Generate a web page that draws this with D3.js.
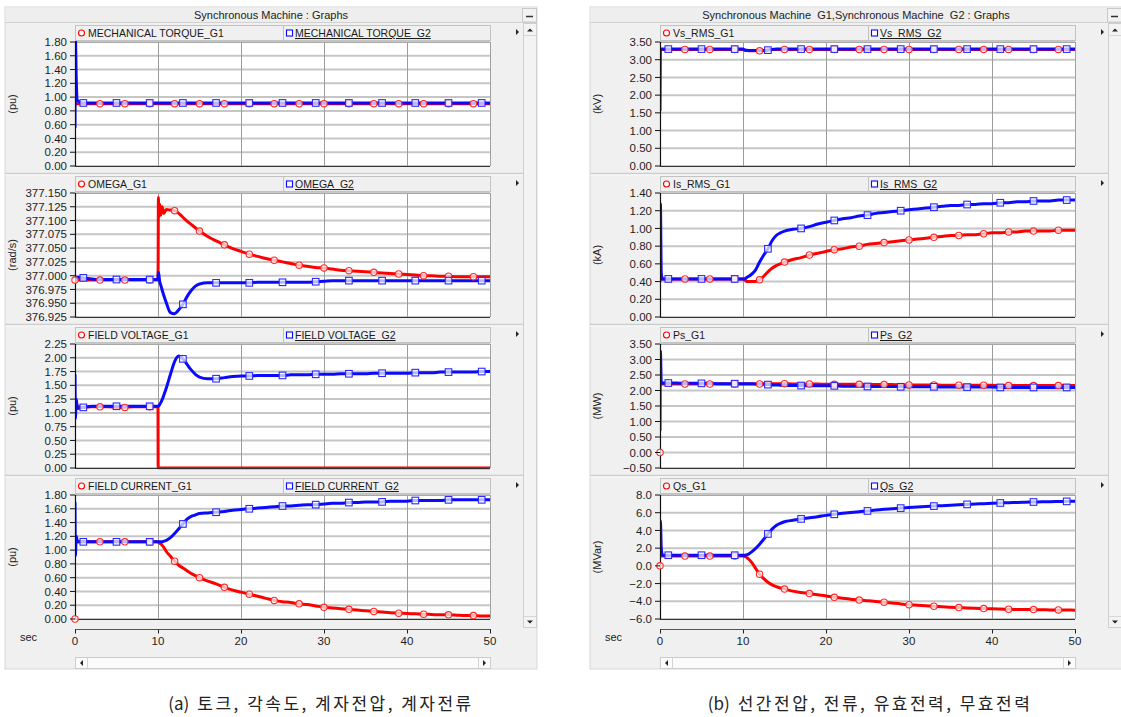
<!DOCTYPE html>
<html>
<head>
<meta charset="utf-8">
<script src="https://cdn.jsdelivr.net/npm/d3@7"></script>
<style>
  html, body { margin: 0; padding: 0; background: #ffffff; }
  svg { display: block; }
</style>
</head>
<body>
<svg id="chart" width="1121" height="717"></svg>
<script>
// ---- simulation time base (s) shared by every trace ----
const time = [
  0, 0.05, 0.15, 0.3,
  1, 2, 3, 4, 5, 6, 7, 8, 9, 10,
  10.02, 10.05, 10.1, 10.2, 10.35, 10.5, 10.7,
  11, 11.5, 12, 12.5, 13, 13.5, 14, 14.5, 15,
  16, 17, 18, 19, 20, 21, 22, 23, 24, 25,
  26, 27, 28, 29, 30, 31, 32, 33, 34, 35,
  36, 37, 38, 39, 40, 41, 42, 43, 44, 45,
  46, 47, 48, 49, 50
];

// ---- (a) mechanical torque (pu) ----
const torqueG1 = [
  0.905, 0.905, 0.905, 0.905,
  0.905, 0.905, 0.905, 0.905, 0.905, 0.905, 0.905, 0.905, 0.905, 0.905,
  0.905, 0.905, 0.905, 0.905, 0.905, 0.905, 0.905,
  0.905, 0.905, 0.905, 0.905, 0.905, 0.905, 0.905, 0.905, 0.905,
  0.905, 0.905, 0.905, 0.905, 0.905, 0.905, 0.905, 0.905, 0.905, 0.905,
  0.905, 0.905, 0.905, 0.905, 0.905, 0.905, 0.905, 0.905, 0.905, 0.905,
  0.905, 0.905, 0.905, 0.905, 0.905, 0.905, 0.905, 0.905, 0.905, 0.905,
  0.905, 0.905, 0.905, 0.905, 0.905
];
const torqueG2 = [
  0.55, 1.85, 1.28, 0.95,
  0.915, 0.915, 0.915, 0.915, 0.915, 0.915, 0.915, 0.915, 0.915, 0.915,
  0.915, 0.915, 0.915, 0.915, 0.915, 0.915, 0.915,
  0.915, 0.915, 0.915, 0.915, 0.915, 0.915, 0.915, 0.915, 0.915,
  0.915, 0.915, 0.915, 0.915, 0.915, 0.915, 0.915, 0.915, 0.915, 0.915,
  0.915, 0.915, 0.915, 0.915, 0.915, 0.915, 0.915, 0.915, 0.915, 0.915,
  0.915, 0.915, 0.915, 0.915, 0.915, 0.915, 0.915, 0.915, 0.915, 0.915,
  0.915, 0.915, 0.915, 0.915, 0.915
];

// ---- (a) rotor speed (rad/s) ----
const omegaG1 = [
  376.992, 376.992, 376.992, 376.992,
  376.992, 376.992, 376.992, 376.992, 376.992, 376.992, 376.992, 376.992, 376.992, 376.992,
  377.030, 377.142, 377.105, 377.130, 377.110, 377.125, 377.113,
  377.120, 377.119, 377.118, 377.113, 377.106, 377.099, 377.093, 377.087, 377.081,
  377.071, 377.063, 377.056, 377.049, 377.044, 377.039, 377.035, 377.031, 377.028, 377.025,
  377.022, 377.019, 377.017, 377.015, 377.014, 377.012, 377.010, 377.009, 377.008, 377.007,
  377.006, 377.005, 377.004, 377.003, 377.002, 377.001, 377.000, 377.000, 376.999, 376.999,
  376.998, 376.998, 376.998, 376.998, 376.998
];
const omegaG2 = [
  376.993, 376.995, 376.997, 376.997,
  376.996, 376.994, 376.993, 376.993, 376.993, 376.993, 376.993, 376.993, 376.993, 376.993,
  377.000, 377.006, 377.002, 376.990, 376.982, 376.974, 376.964,
  376.951, 376.933, 376.931, 376.938, 376.948, 376.962, 376.973, 376.981, 376.985,
  376.987, 376.987, 376.987, 376.987, 376.987, 376.987, 376.988, 376.988, 376.988, 376.988,
  376.988, 376.988, 376.988, 376.989, 376.990, 376.991, 376.991, 376.991, 376.991, 376.991,
  376.991, 376.991, 376.991, 376.991, 376.991, 376.991, 376.991, 376.991, 376.991, 376.991,
  376.991, 376.991, 376.991, 376.991, 376.991
];

// ---- (a) field voltage (pu) ----
const fieldVoltG1 = [
  1.12, 1.12, 1.12, 1.12,
  1.10, 1.11, 1.11, 1.11, 1.10, 1.10, 1.11, 1.11, 1.11, 1.11,
  0, 0, 0, 0, 0, 0, 0,
  0, 0, 0, 0, 0, 0, 0, 0, 0,
  0, 0, 0, 0, 0, 0, 0, 0, 0, 0,
  0, 0, 0, 0, 0, 0, 0, 0, 0, 0,
  0, 0, 0, 0, 0, 0, 0, 0, 0, 0,
  0, 0, 0, 0, 0
];
const fieldVoltG2 = [
  1.70, 0.90, 1.25, 1.08,
  1.10, 1.12, 1.12, 1.12, 1.12, 1.12, 1.12, 1.12, 1.12, 1.12,
  1.12, 1.12, 1.13, 1.15, 1.19, 1.24, 1.32,
  1.45, 1.70, 1.93, 2.03, 1.98, 1.88, 1.78, 1.70, 1.65,
  1.62, 1.62, 1.64, 1.66, 1.67, 1.67, 1.68, 1.68, 1.68, 1.68,
  1.69, 1.69, 1.69, 1.70, 1.70, 1.70, 1.71, 1.71, 1.71, 1.71,
  1.72, 1.72, 1.72, 1.72, 1.72, 1.73, 1.73, 1.73, 1.74, 1.74,
  1.74, 1.74, 1.74, 1.75, 1.75
];

// ---- (a) field current (pu) ----
const fieldCurG1 = [
  0.00, 1.12, 1.12, 1.12,
  1.12, 1.12, 1.12, 1.12, 1.12, 1.12, 1.12, 1.12, 1.12, 1.12,
  1.12, 1.12, 1.11, 1.10, 1.09, 1.07, 1.04,
  0.98, 0.91, 0.84, 0.78, 0.74, 0.70, 0.66, 0.63, 0.60,
  0.55, 0.51, 0.46, 0.42, 0.39, 0.36, 0.33, 0.30, 0.27, 0.25,
  0.24, 0.22, 0.21, 0.19, 0.17, 0.16, 0.15, 0.14, 0.13, 0.12,
  0.11, 0.10, 0.09, 0.085, 0.08, 0.075, 0.07, 0.065, 0.06, 0.06,
  0.055, 0.05, 0.05, 0.045, 0.045
];
const fieldCurG2 = [
  1.70, 0.92, 1.20, 1.12,
  1.12, 1.12, 1.12, 1.12, 1.12, 1.12, 1.12, 1.12, 1.12, 1.12,
  1.12, 1.12, 1.12, 1.12, 1.12, 1.12, 1.13,
  1.14, 1.18, 1.24, 1.31, 1.38, 1.45, 1.49, 1.51, 1.53,
  1.54, 1.55, 1.56, 1.58, 1.59, 1.60, 1.61, 1.62, 1.63, 1.64,
  1.64, 1.65, 1.66, 1.66, 1.67, 1.68, 1.68, 1.69, 1.69, 1.70,
  1.70, 1.70, 1.71, 1.71, 1.71, 1.72, 1.72, 1.72, 1.72, 1.73,
  1.73, 1.73, 1.73, 1.73, 1.73
];

// ---- (b) line voltage (kV) ----
const vsG1 = [
  3.29, 3.29, 3.29, 3.29,
  3.29, 3.29, 3.29, 3.29, 3.29, 3.29, 3.29, 3.29, 3.29, 3.29,
  3.29, 3.28, 3.28, 3.27, 3.26, 3.26, 3.25,
  3.25, 3.25, 3.25, 3.26, 3.28, 3.29, 3.29, 3.29, 3.29,
  3.29, 3.29, 3.29, 3.29, 3.29, 3.29, 3.29, 3.29, 3.29, 3.29,
  3.29, 3.29, 3.29, 3.29, 3.29, 3.29, 3.29, 3.29, 3.29, 3.29,
  3.29, 3.29, 3.29, 3.29, 3.29, 3.29, 3.29, 3.29, 3.29, 3.29,
  3.29, 3.29, 3.29, 3.29, 3.29
];
const vsG2 = [
  1.55, 3.30, 3.30, 3.30,
  3.30, 3.30, 3.30, 3.30, 3.30, 3.30, 3.30, 3.30, 3.30, 3.30,
  3.30, 3.29, 3.29, 3.28, 3.27, 3.27, 3.26,
  3.26, 3.26, 3.26, 3.26, 3.27, 3.29, 3.30, 3.30, 3.30,
  3.30, 3.30, 3.30, 3.30, 3.30, 3.30, 3.30, 3.30, 3.30, 3.30,
  3.30, 3.30, 3.30, 3.30, 3.30, 3.30, 3.30, 3.30, 3.30, 3.30,
  3.30, 3.30, 3.30, 3.30, 3.30, 3.30, 3.30, 3.30, 3.30, 3.30,
  3.30, 3.30, 3.30, 3.30, 3.30
];

// ---- (b) stator current (kA) ----
const isG1 = [
  0.43, 0.43, 0.43, 0.43,
  0.43, 0.43, 0.43, 0.43, 0.43, 0.43, 0.43, 0.43, 0.43, 0.43,
  0.43, 0.43, 0.42, 0.42, 0.41, 0.40, 0.40,
  0.40, 0.40, 0.42, 0.46, 0.51, 0.55, 0.58, 0.60, 0.62,
  0.65, 0.67, 0.70, 0.72, 0.74, 0.76, 0.77, 0.79, 0.80, 0.82,
  0.83, 0.84, 0.85, 0.86, 0.87, 0.88, 0.89, 0.90, 0.91, 0.92,
  0.92, 0.93, 0.93, 0.94, 0.95, 0.95, 0.96, 0.96, 0.97, 0.97,
  0.97, 0.97, 0.98, 0.98, 0.98
];
const isG2 = [
  0.40, 1.28, 0.50, 0.43,
  0.43, 0.43, 0.43, 0.43, 0.43, 0.43, 0.43, 0.43, 0.43, 0.43,
  0.43, 0.43, 0.43, 0.43, 0.44, 0.45, 0.46,
  0.48, 0.53, 0.62, 0.70, 0.77, 0.86, 0.92, 0.95, 0.97,
  0.99, 1.00, 1.02, 1.05, 1.07, 1.09, 1.11, 1.12, 1.14, 1.15,
  1.17, 1.18, 1.19, 1.20, 1.21, 1.22, 1.23, 1.24, 1.25, 1.26,
  1.26, 1.27, 1.27, 1.28, 1.28, 1.29, 1.29, 1.30, 1.30, 1.31,
  1.31, 1.31, 1.32, 1.32, 1.32
];

// ---- (b) active power (MW) ----
const psG1 = [
  0.00, 2.21, 2.21, 2.21,
  2.21, 2.21, 2.21, 2.21, 2.21, 2.21, 2.21, 2.21, 2.21, 2.21,
  2.21, 2.21, 2.21, 2.21, 2.21, 2.21, 2.21,
  2.21, 2.21, 2.21, 2.22, 2.22, 2.22, 2.22, 2.22, 2.22,
  2.21, 2.21, 2.21, 2.21, 2.20, 2.20, 2.20, 2.20, 2.20, 2.19,
  2.19, 2.19, 2.19, 2.18, 2.18, 2.18, 2.18, 2.18, 2.17, 2.17,
  2.17, 2.17, 2.17, 2.17, 2.17, 2.16, 2.16, 2.16, 2.16, 2.16,
  2.16, 2.16, 2.16, 2.16, 2.16
];
const psG2 = [
  0.70, 3.28, 2.30, 2.24,
  2.24, 2.24, 2.23, 2.23, 2.23, 2.23, 2.22, 2.22, 2.22, 2.22,
  2.22, 2.22, 2.22, 2.22, 2.22, 2.22, 2.22,
  2.22, 2.21, 2.21, 2.20, 2.19, 2.18, 2.18, 2.17, 2.17,
  2.16, 2.16, 2.15, 2.15, 2.15, 2.15, 2.14, 2.14, 2.14, 2.13,
  2.13, 2.13, 2.13, 2.12, 2.12, 2.12, 2.12, 2.12, 2.11, 2.11,
  2.11, 2.11, 2.11, 2.11, 2.11, 2.10, 2.10, 2.10, 2.10, 2.10,
  2.10, 2.10, 2.10, 2.10, 2.10
];

// ---- (b) reactive power (MVar) ----
const qsG1 = [
  0.0, 1.1, 1.1, 1.1,
  1.1, 1.1, 1.1, 1.1, 1.1, 1.1, 1.1, 1.1, 1.1, 1.1,
  1.1, 1.1, 1.08, 1.05, 1.0, 0.92, 0.75,
  0.45, -0.25, -0.95, -1.45, -1.85, -2.15, -2.35, -2.5, -2.62,
  -2.85, -3.0, -3.13, -3.27, -3.4, -3.55, -3.66, -3.76, -3.86, -3.94,
  -4.02, -4.1, -4.2, -4.3, -4.38, -4.44, -4.5, -4.56, -4.62, -4.67,
  -4.71, -4.75, -4.79, -4.82, -4.85, -4.88, -4.9, -4.92, -4.93, -4.94,
  -4.96, -4.97, -4.98, -4.99, -5.0
];
const qsG2 = [
  1.1, 5.1, 2.1, 1.2,
  1.2, 1.2, 1.2, 1.2, 1.2, 1.2, 1.2, 1.2, 1.2, 1.2,
  1.2, 1.2, 1.2, 1.2, 1.22, 1.26, 1.35,
  1.55, 1.95, 2.45, 3.0, 3.6, 4.15, 4.55, 4.8, 4.98,
  5.15, 5.3, 5.42, 5.55, 5.7, 5.82, 5.93, 6.03, 6.12, 6.2,
  6.3, 6.38, 6.45, 6.52, 6.58, 6.64, 6.7, 6.75, 6.8, 6.85,
  6.9, 6.94, 6.98, 7.02, 7.06, 7.1, 7.13, 7.16, 7.19, 7.21,
  7.23, 7.25, 7.27, 7.28, 7.3
];

// ---- axis tick values ----
const timeTicks   = [0, 10, 20, 30, 40, 50];
const torqueTicks = [0.00, 0.20, 0.40, 0.60, 0.80, 1.00, 1.20, 1.40, 1.60, 1.80];
const omegaTicks  = [376.925, 376.950, 376.975, 377.000, 377.025, 377.050, 377.075, 377.100, 377.125, 377.150];
const fieldVTicks = [0.00, 0.25, 0.50, 0.75, 1.00, 1.25, 1.50, 1.75, 2.00, 2.25];
const fieldITicks = [0.00, 0.20, 0.40, 0.60, 0.80, 1.00, 1.20, 1.40, 1.60, 1.80];
const vsTicks     = [0.00, 0.50, 1.00, 1.50, 2.00, 2.50, 3.00, 3.50];
const isTicks     = [0.00, 0.20, 0.40, 0.60, 0.80, 1.00, 1.20, 1.40];
const psTicks     = [-0.50, 0.00, 0.50, 1.00, 1.50, 2.00, 2.50, 3.00, 3.50];
const qsTicks     = [-6.0, -4.0, -2.0, 0.0, 2.0, 4.0, 6.0, 8.0];

// ---- marker sample times for each machine ----
const g1MarkTimes = [0, 3, 6, 9, 12, 15, 18, 21, 24, 27, 30, 33, 36, 39, 42, 45, 48];
const g2MarkTimes = [1, 5, 9, 13, 17, 21, 25, 29, 33, 37, 41, 45, 49];

// ---- text ----
const titleA = "Synchronous Machine : Graphs";
const titleB = "Synchronous Machine  G1,Synchronous Machine  G2 : Graphs";
const captionA = ["(a)", "토크, 각속도, 계자전압, 계자전류"];
const captionB = ["(b)", "선간전압, 전류, 유효전력, 무효전력"];

const windowA = [
  { n1: "MECHANICAL TORQUE_G1", n2: "MECHANICAL TORQUE_G2", unit: "(pu)", g1: torqueG1, g2: torqueG2, ticks: torqueTicks, fmt: ".2f", g1MarkFrom: 3 },
  { n1: "OMEGA_G1", n2: "OMEGA_G2", unit: "(rad/s)", g1: omegaG1, g2: omegaG2, ticks: omegaTicks, fmt: ".3f" },
  { n1: "FIELD VOLTAGE_G1", n2: "FIELD VOLTAGE_G2", unit: "(pu)", g1: fieldVoltG1, g2: fieldVoltG2, ticks: fieldVTicks, fmt: ".2f", g1MarkFrom: 3, g1MarkEnd: 10 },
  { n1: "FIELD CURRENT_G1", n2: "FIELD CURRENT_G2", unit: "(pu)", g1: fieldCurG1, g2: fieldCurG2, ticks: fieldITicks, fmt: ".2f" }
];
const windowB = [
  { n1: "Vs_RMS_G1", n2: "Vs_RMS_G2", unit: "(kV)", g1: vsG1, g2: vsG2, ticks: vsTicks, fmt: ".2f", g1MarkFrom: 3 },
  { n1: "Is_RMS_G1", n2: "Is_RMS_G2", unit: "(kA)", g1: isG1, g2: isG2, ticks: isTicks, fmt: ".2f", g1MarkFrom: 3 },
  { n1: "Ps_G1", n2: "Ps_G2", unit: "(MW)", g1: psG1, g2: psG2, ticks: psTicks, fmt: ".2f" },
  { n1: "Qs_G1", n2: "Qs_G2", unit: "(MVar)", g1: qsG1, g2: qsG2, ticks: qsTicks, fmt: ".1f" }
];

// ---- drawing ----
const svg = d3.select("#chart");
const FONT = "'Liberation Sans', Arial, sans-serif";
const RED = "#ff0000", BLUE = "#0a0aff";
const BG = "#f0f0f0";

const PX0 = 75, PX1 = 490;          // plot left/right inside a window
const TOP0 = 42, STEP = 151, PH = 124;
const WIN_X = 5, WIN_R = 537;

let clipId = 0;

function drawWindow(dx, title, panels, centerX) {
  const g = svg.append("g").attr("transform", `translate(${dx},0)`);

  // frame
  g.append("rect").attr("x", WIN_X).attr("y", 7).attr("width", WIN_R - WIN_X).attr("height", 662)
    .attr("fill", BG).attr("stroke", "#d8d8d8");
  // title bar
  g.append("rect").attr("x", WIN_X + 0.5).attr("y", 7.5).attr("width", WIN_R - WIN_X - 1).attr("height", 15)
    .attr("fill", "#eeeeee");
  g.append("line").attr("x1", WIN_X).attr("x2", WIN_R).attr("y1", 22.5).attr("y2", 22.5)
    .attr("stroke", "#d2d2d2");
  g.append("text").attr("x", centerX).attr("y", 19).attr("text-anchor", "middle")
    .attr("font-family", FONT).attr("font-size", 11).attr("fill", "#222")
    .style("white-space", "pre").text(title);
  // minimise button
  g.append("rect").attr("x", 522.5).attr("y", 8.5).attr("width", 14).attr("height", 13.5)
    .attr("fill", "#f2f2f2").attr("stroke", "#c8c8c8");
  g.append("line").attr("x1", 526).attr("x2", 533).attr("y1", 16.5).attr("y2", 16.5)
    .attr("stroke", "#333").attr("stroke-width", 1.5);

  // vertical scroll column
  g.append("rect").attr("x", 523.5).attr("y", 23.5).attr("width", 13).attr("height", 604)
    .attr("fill", "#f3f3f3").attr("stroke", "#cfcfcf");
  g.append("line").attr("x1", 523.5).attr("x2", 536.5).attr("y1", 35.5).attr("y2", 35.5).attr("stroke", "#d6d6d6");
  g.append("line").attr("x1", 523.5).attr("x2", 536.5).attr("y1", 616.5).attr("y2", 616.5).attr("stroke", "#d6d6d6");
  g.append("path").attr("d", "M527,31.5 L533,31.5 L530,28.5 Z").attr("fill", "#222");
  g.append("path").attr("d", "M527,620.5 L533,620.5 L530,623.5 Z").attr("fill", "#222");

  // panel separators
  for (let i = 1; i < 4; i++) {
    const y = TOP0 + STEP * i - 19.5;
    g.append("line").attr("x1", WIN_X).attr("x2", 523).attr("y1", y).attr("y2", y)
      .attr("stroke", "#cdcdcd").attr("stroke-width", 1.5);
    g.append("line").attr("x1", WIN_X).attr("x2", 523).attr("y1", y + 1.5).attr("y2", y + 1.5)
      .attr("stroke", "#fafafa").attr("stroke-width", 1);
  }

  const x = d3.scaleLinear().domain([timeTicks[0], timeTicks[timeTicks.length - 1]]).range([PX0, PX1]);

  panels.forEach((p, i) => {
    const top = TOP0 + STEP * i, bottom = top + PH;
    const y = d3.scaleLinear().domain([p.ticks[0], p.ticks[p.ticks.length - 1]]).range([bottom, top]);
    const pg = g.append("g");

    // legend strip
    const ly = top - 17;
    pg.append("rect").attr("x", PX0 + 0.5).attr("y", ly + 0.5).attr("width", PX1 - PX0).attr("height", 15)
      .attr("fill", "#f0f0f0").attr("stroke", "#c2c2c2");
    pg.append("line").attr("x1", 283.5).attr("x2", 283.5).attr("y1", ly + 0.5).attr("y2", ly + 15.5)
      .attr("stroke", "#c2c2c2");
    pg.append("circle").attr("cx", 81.5).attr("cy", ly + 8).attr("r", 3)
      .attr("fill", "#fff").attr("stroke", RED).attr("stroke-width", 1.1);
    pg.append("text").attr("x", 88).attr("y", ly + 12).attr("font-family", FONT).attr("font-size", 10.5)
      .attr("fill", "#1a1a1a").text(p.n1);
    pg.append("rect").attr("x", 286.5).attr("y", ly + 5).attr("width", 6).attr("height", 6)
      .attr("fill", "#fff").attr("stroke", BLUE).attr("stroke-width", 1.1);
    pg.append("text").attr("x", 295).attr("y", ly + 12).attr("font-family", FONT).attr("font-size", 10.5)
      .attr("fill", "#1a1a1a").attr("text-decoration", "underline").text(p.n2);
    pg.append("path").attr("d", `M516,${ly + 4} L516,${ly + 10} L519,${ly + 7} Z`).attr("fill", "#222");

    // plot background
    pg.append("rect").attr("x", PX0).attr("y", top).attr("width", PX1 - PX0).attr("height", PH)
      .attr("fill", "#ffffff");

    // horizontal grid
    pg.append("g").selectAll("line").data(p.ticks).join("line")
      .attr("x1", PX0).attr("x2", PX1)
      .attr("y1", d => y(d)).attr("y2", d => y(d))
      .attr("stroke", "#c6c6c6").attr("stroke-width", 2);
    // vertical grid
    pg.append("g").selectAll("line").data(timeTicks.slice(1)).join("line")
      .attr("x1", d => x(d) + 0.5).attr("x2", d => x(d) + 0.5)
      .attr("y1", top).attr("y2", bottom)
      .attr("stroke", "#9c9c9c").attr("stroke-width", 1);
    pg.append("line").attr("x1", PX0).attr("x2", PX1).attr("y1", top + 0.5).attr("y2", top + 0.5)
      .attr("stroke", "#a8a8a8");

    // traces
    const cid = "clip" + (clipId++);
    pg.append("clipPath").attr("id", cid).append("rect")
      .attr("x", PX0).attr("y", top - 1).attr("width", PX1 - PX0 + 1).attr("height", PH + 2.5);
    const lineG1 = d3.line().defined((d, k) => k > 0)
      .x((d, k) => x(time[k])).y(d => y(d)).curve(d3.curveMonotoneX);
    const lineG2 = d3.line()
      .x((d, k) => x(time[k])).y(d => y(d)).curve(d3.curveMonotoneX);
    const tg = pg.append("g").attr("clip-path", `url(#${cid})`);
    tg.append("path").datum(p.g1).attr("d", lineG1).attr("fill", "none")
      .attr("stroke", RED).attr("stroke-width", 3).attr("stroke-linejoin", "round");
    tg.append("path").datum(p.g2).attr("d", lineG2).attr("fill", "none")
      .attr("stroke", BLUE).attr("stroke-width", 3).attr("stroke-linejoin", "round");

    // axes
    pg.append("line").attr("x1", PX0 + 0.5).attr("x2", PX0 + 0.5).attr("y1", top).attr("y2", bottom + 0.5)
      .attr("stroke", "#111").attr("stroke-width", 1.2);
    pg.append("line").attr("x1", PX0).attr("x2", PX1).attr("y1", bottom + 0.5).attr("y2", bottom + 0.5)
      .attr("stroke", "#333").attr("stroke-width", 1);
    pg.append("line").attr("x1", PX1 + 0.5).attr("x2", PX1 + 0.5).attr("y1", top).attr("y2", bottom)
      .attr("stroke", "#a0a0a0");

    // markers
    const from = p.g1MarkFrom === undefined ? 0 : p.g1MarkFrom;
    const idx1 = g1MarkTimes.map(t => time.indexOf(t))
      .filter(k => k >= 0 && time[k] >= from && (p.g1MarkEnd === undefined || time[k] < p.g1MarkEnd));
    const idx2 = g2MarkTimes.map(t => time.indexOf(t)).filter(k => k >= 0);
    pg.append("g").selectAll("circle").data(idx1).join("circle")
      .attr("cx", k => x(time[k])).attr("cy", k => y(p.g1[k])).attr("r", 3.2)
      .attr("fill", "#fff").attr("fill-opacity", 0.7)
      .attr("stroke", "#ff2a2a").attr("stroke-width", 1.1);
    pg.append("g").selectAll("rect").data(idx2).join("rect")
      .attr("x", k => x(time[k]) - 3.3).attr("y", k => y(p.g2[k]) - 3.3)
      .attr("width", 6.6).attr("height", 6.6)
      .attr("fill", "#fff").attr("fill-opacity", 0.7)
      .attr("stroke", "#2a2aff").attr("stroke-width", 1.1);

    // y axis ticks + labels
    const fmt = d3.format(p.fmt);
    pg.append("g").selectAll("line").data(p.ticks).join("line")
      .attr("x1", PX0 - 5).attr("x2", PX0).attr("y1", d => y(d)).attr("y2", d => y(d))
      .attr("stroke", "#111");
    pg.append("g").selectAll("text").data(p.ticks).join("text")
      .attr("x", PX0 - 8).attr("y", d => y(d)).attr("dy", "0.36em")
      .attr("text-anchor", "end").attr("font-family", FONT).attr("font-size", 11.5)
      .attr("fill", "#1e1e1e").text(d => fmt(d));

    // unit label
    pg.append("text").attr("transform", `translate(16,${(top + bottom) / 2}) rotate(-90)`)
      .attr("text-anchor", "middle").attr("font-family", FONT).attr("font-size", 11)
      .attr("fill", "#222").text(p.unit);
  });

  // time axis strip
  const ay = 629.5;
  g.append("line").attr("x1", PX0).attr("x2", PX1 + 1).attr("y1", ay).attr("y2", ay).attr("stroke", "#555");
  g.append("g").selectAll("line").data(timeTicks).join("line")
    .attr("x1", d => x(d) + 0.5).attr("x2", d => x(d) + 0.5).attr("y1", ay).attr("y2", ay + 4)
    .attr("stroke", "#222");
  g.append("g").selectAll("text").data(timeTicks).join("text")
    .attr("x", d => x(d)).attr("y", 645).attr("text-anchor", "middle")
    .attr("font-family", FONT).attr("font-size", 11.5).attr("fill", "#1e1e1e").text(d => d);
  g.append("text").attr("x", 20).attr("y", 641).attr("font-family", FONT).attr("font-size", 11)
    .attr("fill", "#222").text("sec");

  // horizontal scroll bar
  g.append("rect").attr("x", PX0 + 0.5).attr("y", 657.5).attr("width", PX1 - PX0).attr("height", 11)
    .attr("fill", "#fbfbfb").attr("stroke", "#cccccc");
  g.append("line").attr("x1", PX0 + 12.5).attr("x2", PX0 + 12.5).attr("y1", 657.5).attr("y2", 668.5).attr("stroke", "#d4d4d4");
  g.append("line").attr("x1", PX1 - 11.5).attr("x2", PX1 - 11.5).attr("y1", 657.5).attr("y2", 668.5).attr("stroke", "#d4d4d4");
  g.append("path").attr("d", `M${PX0 + 8},660 L${PX0 + 8},666 L${PX0 + 5},663 Z`).attr("fill", "#222");
  g.append("path").attr("d", `M${PX1 - 7},660 L${PX1 - 7},666 L${PX1 - 4},663 Z`).attr("fill", "#222");
}

drawWindow(0, titleA, windowA, 271);
drawWindow(585, titleB, windowB, 271);

// captions: label part kept tight, Korean part lightly tracked
function caption(cx, parts) {
  const t = svg.append("text").attr("x", cx).attr("y", 710).attr("text-anchor", "middle")
    .attr("font-family", "'Noto Sans CJK KR', sans-serif").attr("font-size", 17)
    .attr("fill", "#222");
  t.append("tspan").text(parts[0]);
  t.append("tspan").attr("dx", 8).attr("letter-spacing", 2.5).text(parts[1]);
}
caption(321, captionA);
caption(870, captionB);
</script>
</body>
</html>
